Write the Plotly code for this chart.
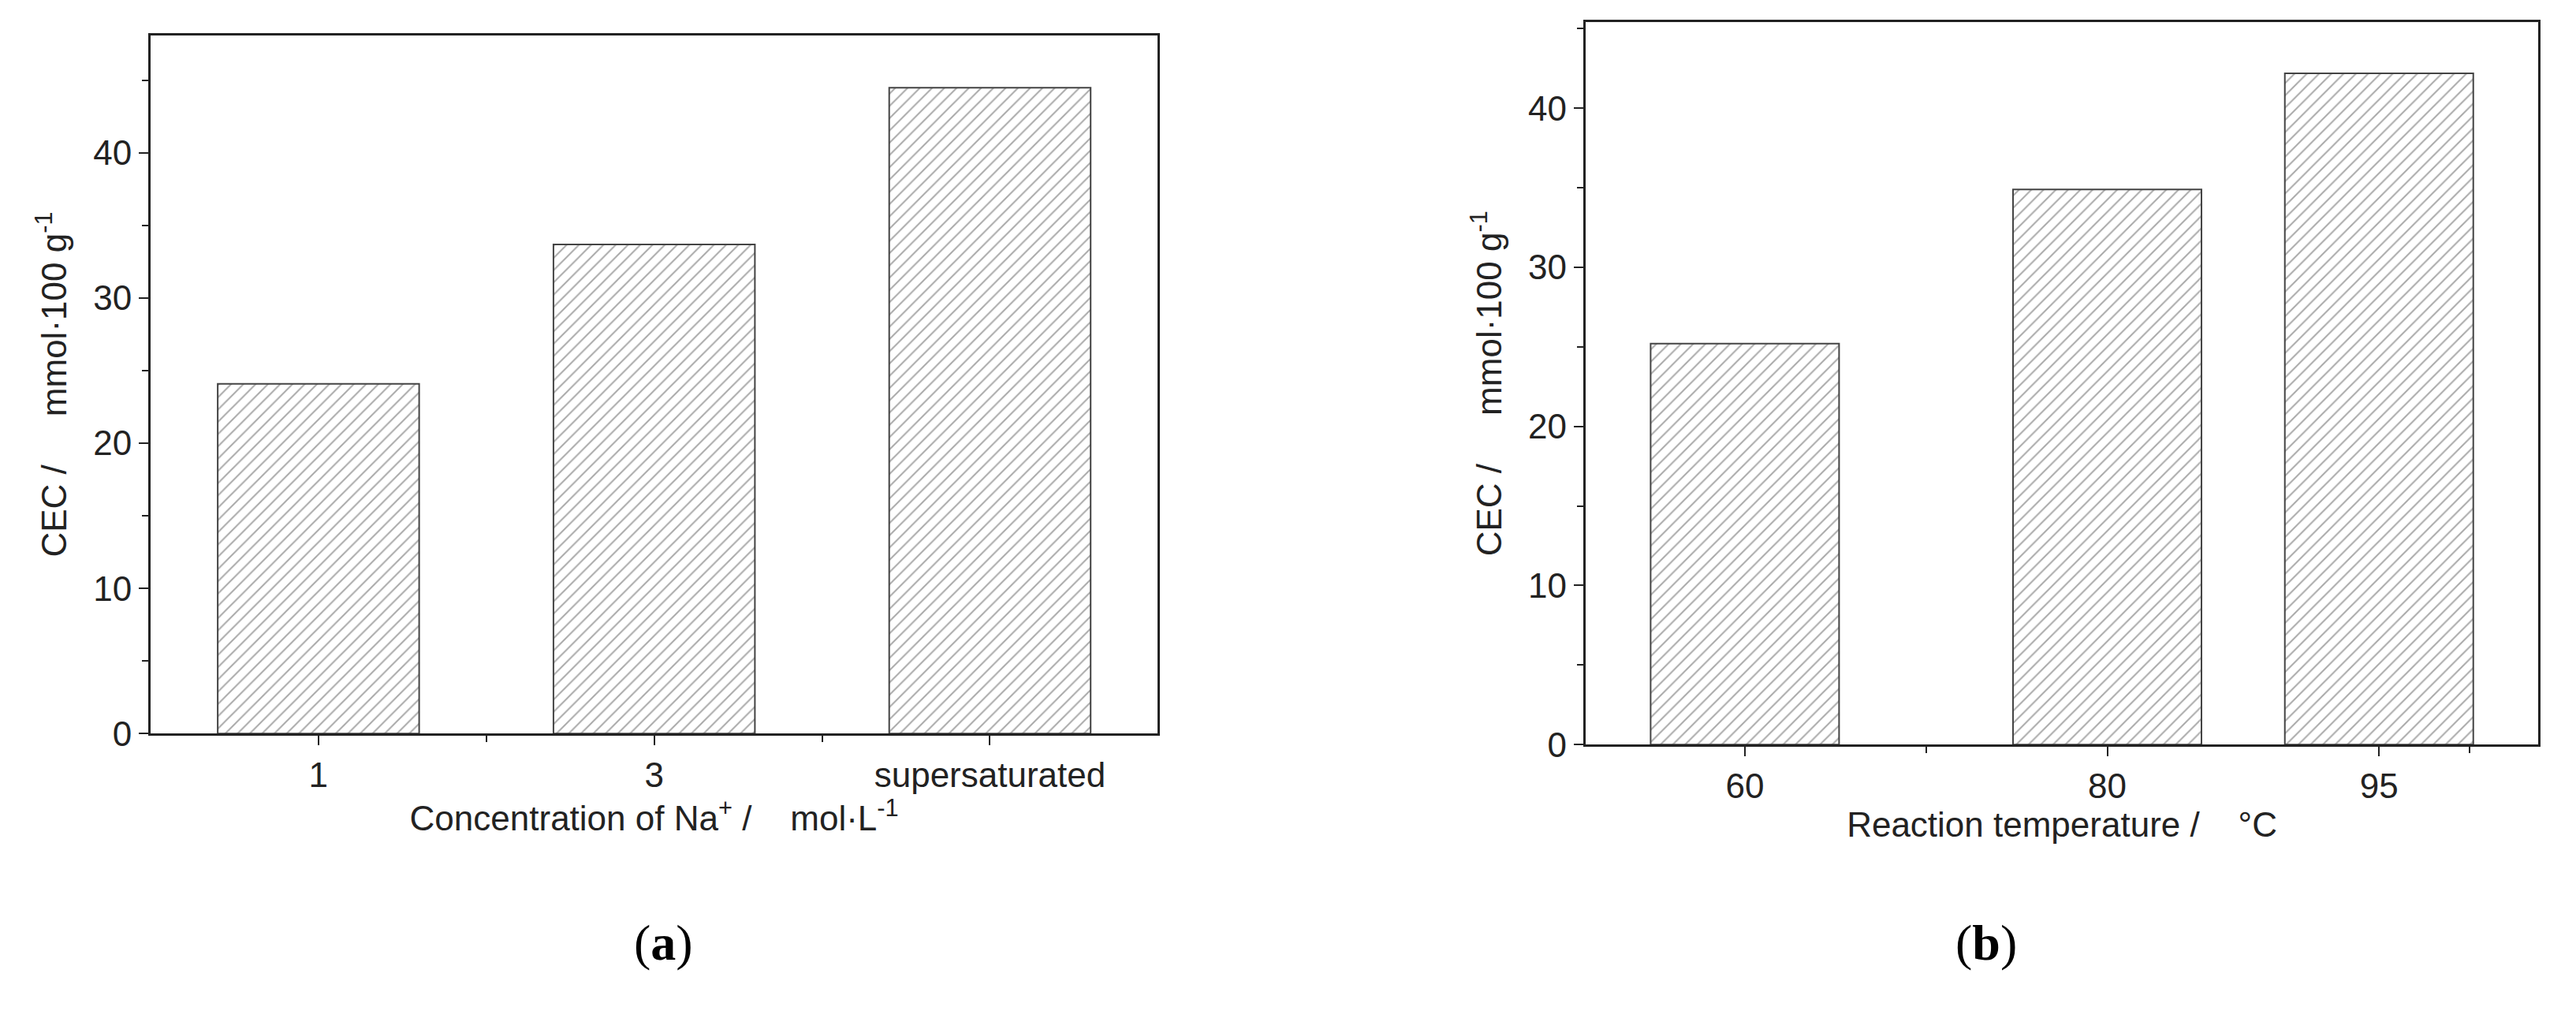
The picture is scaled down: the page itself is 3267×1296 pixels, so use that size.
import plotly.graph_objects as go

cats_a = ["1", "3", "supersaturated"]
pos_a = [1, 2, 3]
vals_a = [24.1, 33.7, 44.5]
temps_b = [60, 80, 95]
vals_b = [25.2, 34.9, 42.2]

font = dict(family="Liberation Sans, Arial", size=44, color="#222")
pattern = dict(shape="/", fgcolor="#555", bgcolor="white", size=11, solidity=0.18)

fig = go.Figure()
fig.add_trace(go.Bar(x=pos_a, y=vals_a, width=0.6, xaxis="x", yaxis="y",
                     marker=dict(color="white", pattern=pattern, line=dict(color="#444", width=2))))
fig.add_trace(go.Bar(x=temps_b, y=vals_b, width=10.4, xaxis="x2", yaxis="y2",
                     marker=dict(color="white", pattern=pattern, line=dict(color="#444", width=2))))

ax = dict(showline=True, linecolor="#222", linewidth=3, mirror=True, showgrid=False, zeroline=False,
          ticks="outside", ticklen=12, tickwidth=2, tickcolor="#222", tickfont=font)
fig.update_layout(
    width=3267, height=1296, plot_bgcolor="white", paper_bgcolor="white", showlegend=False,
    margin=dict(l=0, r=0, t=0, b=0), font=font,
    xaxis=dict(ax, domain=[0.056, 0.447], range=[0.5, 3.5], tickvals=pos_a, ticktext=cats_a,
               minor=dict(tickvals=[1.5, 2.5], ticks="outside", ticklen=8, tickcolor="#222"),
               title=dict(text="Concentration of Na<sup>+</sup> /&nbsp;&nbsp;&nbsp; mol·L<sup>-1</sup>", font=font, standoff=8)),
    yaxis=dict(ax, domain=[0.275, 0.971], range=[0, 48.1], dtick=10,
               minor=dict(dtick=5, ticks="outside", ticklen=8, tickcolor="#222"),
               title=dict(text="CEC /&nbsp;&nbsp;&nbsp;&nbsp; mmol·100 g<sup>-1</sup>", font=font, standoff=20)),
    xaxis2=dict(ax, domain=[0.613, 0.983], range=[51.2, 103.8], tickvals=temps_b,
                minor=dict(tickvals=[70, 100], ticks="outside", ticklen=8, tickcolor="#222"),
                anchor="y2",
                title=dict(text="Reaction temperature /&nbsp;&nbsp;&nbsp; °C", font=font, standoff=8)),
    yaxis2=dict(ax, domain=[0.264, 0.984], range=[0, 45.4], dtick=10, anchor="x2",
                minor=dict(dtick=5, ticks="outside", ticklen=8, tickcolor="#222"),
                title=dict(text="CEC /&nbsp;&nbsp;&nbsp;&nbsp; mmol·100 g<sup>-1</sup>", font=font, standoff=20)),
    annotations=[
        dict(text="(<b>a</b>)", x=0.243, y=0.037, xref="paper", yref="paper", showarrow=False,
             font=dict(family="Liberation Serif", size=64, color="#000")),
        dict(text="(<b>b</b>)", x=0.781, y=0.037, xref="paper", yref="paper", showarrow=False,
             font=dict(family="Liberation Serif", size=64, color="#000")),
    ],
)
fig.write_html("out.html")
